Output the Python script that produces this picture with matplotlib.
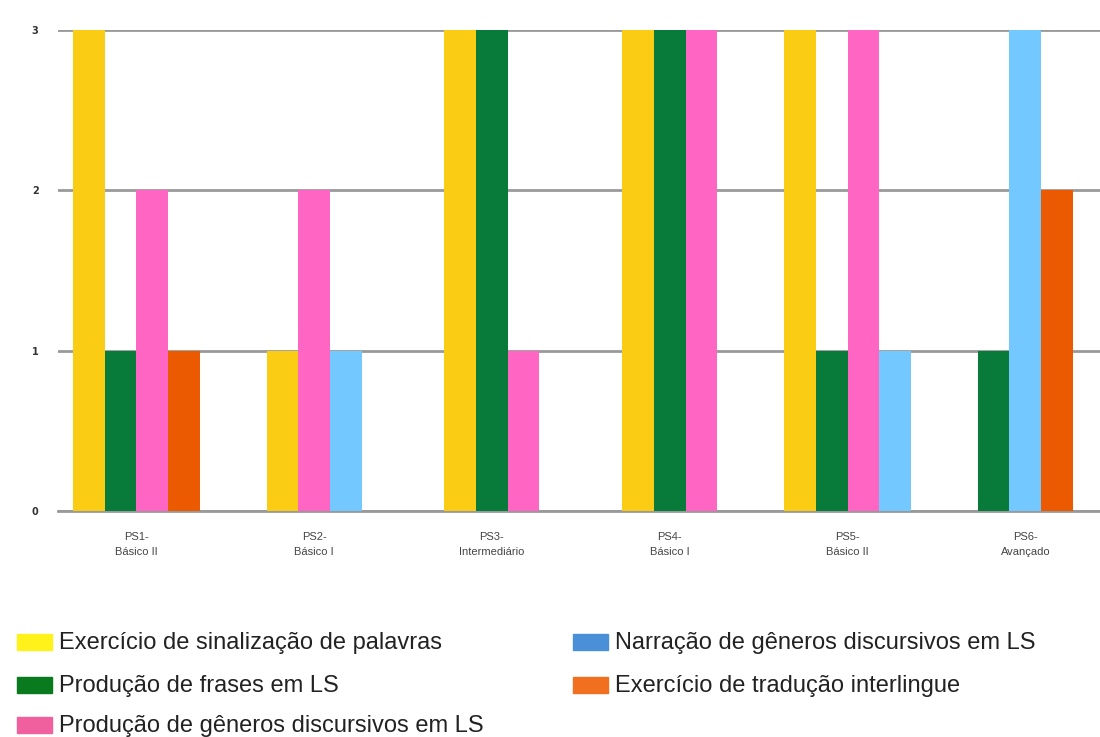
import numpy as np
import matplotlib.pyplot as plt
from matplotlib.patches import Rectangle

categorias = ['PS1-\nBásico II', 'PS2-\nBásico I', 'PS3-\nIntermediário',
              'PS4-\nBásico I', 'PS5-\nBásico II', 'PS6-\nAvançado']

series = ['Exercício de sinalização de palavras',
          'Produção de frases em LS',
          'Produção de gêneros discursivos em LS',
          'Narração de gêneros discursivos em LS',
          'Exercício de tradução interlingue']

sinalizacao = [3, 1, 3, 3, 3, 0]
frases = [1, 0, 3, 3, 1, 1]
generos = [2, 2, 1, 3, 3, 0]
narracao = [0, 1, 0, 0, 1, 3]
traducao = [1, 0, 0, 0, 0, 2]

cores_barras = ['#FACC14', '#087A3A', '#FF66C4', '#73C8FF', '#EB5A00']
cores_legenda = ['#FFF21A', '#0A7A1E', '#F0609E', '#4A90D9', '#F07020']

valores = [sinalizacao, frases, generos, narracao, traducao]

W, H = 1100, 737
fig = plt.figure(figsize=(11, 7.37), dpi=100)
ax = fig.add_axes([58/W, 1-511/H, 1042/W, 481/H])

largura = 0.178
for i in range(len(categorias)):
    # only non-zero series get a bar, packed and centred on the category
    ativos = [s for s in range(len(series)) if valores[s][i] > 0]
    n = len(ativos)
    for k, s in enumerate(ativos):
        x = i + (k - (n - 1) / 2) * largura
        ax.bar(x, valores[s][i], width=largura, color=cores_barras[s], zorder=3)

ax.set_xlim(-0.44, 5.42)
ax.set_ylim(0, 3)
ax.set_yticks([0, 1, 2, 3])
ax.set_yticklabels(['0', '1', '2', '3'], fontsize=7, color='#333333', fontweight='bold')
ax.set_xticks(range(len(categorias)))
ax.set_xticklabels(categorias, fontsize=8, color='#444444',
                   family=['Liberation Sans', 'DejaVu Sans'], linespacing=1.6)
ax.tick_params(length=0, pad=14, axis='y')
ax.tick_params(length=0, pad=15, axis='x')
ax.grid(axis='y', color='#999999', linewidth=2, zorder=0)
for sp in ['top', 'right', 'left']:
    ax.spines[sp].set_visible(False)
ax.spines['bottom'].set_color('#999999')
ax.spines['bottom'].set_linewidth(2)

# legend drawn by hand, two columns
linhas = [642, 685, 725, 642, 685]
col_x = [17, 17, 17, 573, 573]
for s in range(len(series)):
    y = linhas[s]
    x0 = col_x[s]
    fig.patches.append(Rectangle((x0/W, 1-(y+8)/H), 35/W, 16/H,
                                 transform=fig.transFigure, color=cores_legenda[s]))
    fig.text((x0+42)/W, 1-(y+1)/H, series[s], fontsize=17, color='#222222',
             family=['Liberation Sans', 'DejaVu Sans'], va='center', ha='left')

fig.savefig('out.png', dpi=100)
